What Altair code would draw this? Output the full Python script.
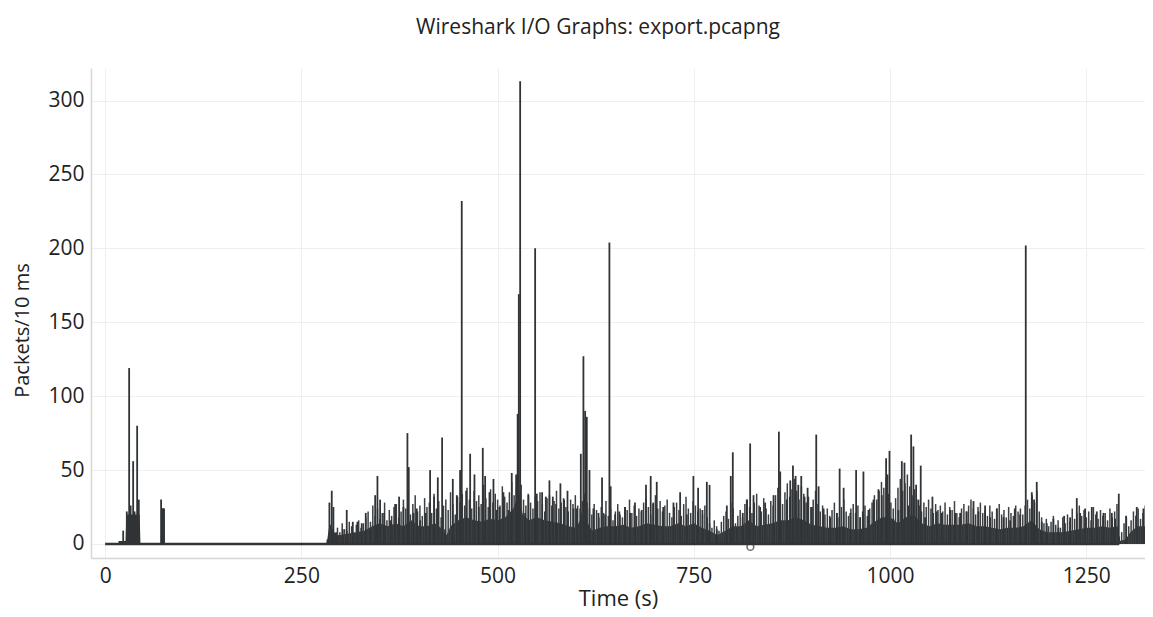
import altair as alt
import pandas as pd

# ---- data ----
spike_t = [20, 23, 27.6, 30.6, 32.5, 35.7, 37.5, 40.8, 42.9, 71.3, 73.5, 75,
           283.2, 285.7, 288.7, 290.8, 294.2, 297.2, 302.7, 307.8, 315.5, 321.4, 326.9, 332.0,
           337.6, 344.0, 346.9, 350.3, 355.4, 363.9, 369.4, 374.5, 380.0, 385.1, 386.8, 392.8,
           397.0, 401.3, 408.5, 414.0, 419.1, 423.8, 429.3, 433.1, 442.9, 448.0, 452.2, 454.3,
           459.9, 465.0, 470.5, 476.0, 481.1, 484.1, 489.6, 494.7, 499.0, 502.3, 507.4, 513.8,
           518.0, 523.6, 525.5, 527.0, 528.7, 535.0, 539.3, 547.8, 549.9, 556.7, 561.4, 566.0,
           570.3, 574.5, 580.0, 584.7, 589.0, 596.6, 600.8,
           606, 609.3, 611.5, 613.6, 617, 622, 628.5, 633, 637, 642.4, 644, 649.7, 655, 662.4,
           668.8, 675, 683.6, 689, 695, 698.3, 702.7, 711, 724, 732.5, 741, 749.4, 755.4, 760.9,
           766.5, 770, 779.2, 792, 797, 799.6, 804.7, 812.3, 817.4, 821.7, 826, 834.4, 840.8,
           851.5, 858.3, 860, 868.5, 872.8, 876.2, 879.6, 883, 886.8, 891, 894.9, 900.4, 905.9,
           908.9, 915.3, 923.8, 932.3, 935.7, 940.8, 949.3,
           956.7, 961.8, 966, 972.4, 978.8, 985.1, 989.4, 994.9, 996.6, 999.2, 1004.2, 1010.6,
           1014.9, 1018.3, 1023.4, 1026.8, 1029.7, 1033.1, 1036.1, 1039, 1044.6, 1053.9, 1059.4,
           1065.8, 1076.4, 1082.8, 1089.2, 1097.7, 1106.2, 1112.5, 1121, 1127.4, 1135.9, 1144.4,
           1152.9, 1158.8, 1165.6, 1172.8, 1180.5, 1183.4, 1186.8, 1193.2, 1199.6, 1208, 1214.4,
           1221.7, 1229.3, 1237.8, 1242, 1248.4, 1256.9, 1263.3, 1271.8, 1282.4, 1286.6, 1291.3,
           1300.6, 1314.2, 1322.7, 1329.1, 1333.3]
spike_v = [2, 9, 22, 119, 26, 56, 22, 80, 30, 30, 24, 24,
           3, 28, 36, 25, 8, 6, 10, 23, 15, 15, 14, 21,
           10, 33, 46, 30, 21, 16, 27, 32, 25, 75, 52, 21,
           24, 16, 21, 50, 32, 45, 72, 10, 44, 33, 50, 232,
           36, 61, 47, 25, 65, 46, 35, 44, 23, 25, 35, 23,
           48, 47, 88, 169, 313, 21, 33, 200, 34, 35, 32, 43,
           32, 27, 41, 30, 36, 24, 24,
           61, 127, 90, 86, 50, 24, 21, 45, 20, 204, 39, 20, 22, 25,
           21, 28, 23, 40, 46, 28, 42, 25, 28, 35, 20, 46, 38, 23,
           42, 40, 10, 26, 46, 62, 10, 21, 30, 68, 33, 25, 28,
           33, 76, 49, 30, 43, 53, 46, 40, 46, 32, 38, 25, 74,
           39, 24, 18, 21, 51, 38, 21,
           50, 18, 49, 23, 30, 37, 33, 58, 47, 63, 17, 23,
           56, 55, 26, 74, 66, 40, 30, 53, 18, 32, 22,
           21, 23, 21, 21, 22, 29, 22, 26, 18, 24, 18,
           16, 24, 20, 202, 35, 30, 42, 15, 14, 17, 11,
           19, 18, 31, 21, 24, 25, 22, 21, 21, 17, 34,
           19, 25, 24, 24, 32]

# thinner lines of the dense band, one every 3 s from 287 s
texture_start = 287
texture_step = 3
texture_v = [12, 9, 7, 11, 8, 14, 10, 9, 15, 12, 8, 13, 16, 11, 14,
             18, 22, 15, 26, 19, 24, 17, 21, 28, 16, 23, 19, 25, 27, 18, 22, 30,
             24, 29, 20, 27, 33, 22, 26, 19, 31, 25, 28, 21, 34, 24, 29, 18, 26, 30, 23, 35, 27, 20, 32,
             28, 34, 26, 38, 30, 24, 36, 29, 33, 27, 40, 31, 25, 37, 28, 34, 30, 26, 39, 32, 28, 35, 42,
             33, 38, 36, 40,
             30, 26, 34, 28, 24, 32, 29, 35, 27, 22, 31, 33, 26, 29, 36, 24, 28, 31, 25, 22, 30, 27, 33,
             26, 24, 29,
             34, 28, 24, 20, 27, 23, 18, 25, 21, 29, 19, 24, 16, 22, 27, 20, 18, 25, 23, 30,
             21, 26, 19, 24, 22, 28, 31, 25, 20, 27, 33, 24, 29, 22, 26, 30, 21, 18, 25, 28,
             23, 19, 27, 32, 24, 21, 29, 26, 22, 24,
             20, 26, 18, 14, 11, 16, 12, 9, 15, 19, 22, 17, 28, 24,
             14, 19, 23, 18, 27, 30, 25, 21, 28, 34, 26, 22, 31, 24, 20, 29, 26, 33, 38, 30,
             27, 35, 41, 32, 37, 44, 36, 30, 39, 34, 28, 32, 25, 30, 36, 27, 22, 26, 20, 24,
             19, 23, 28, 21, 18, 25, 30, 22, 19, 24, 27, 21, 26,
             18, 22, 26, 19, 24, 28, 33, 30, 36, 42, 38, 45, 34, 28, 24, 31, 38, 44, 36, 41,
             47, 39, 33, 37, 30, 26, 22, 28, 25, 30, 24, 21, 27, 23,
             26, 22, 28, 20, 25, 23, 29, 21, 18, 24, 27, 22, 26, 30, 24, 20, 25, 28, 21, 23,
             19, 26, 22, 17, 24, 27, 20, 23, 18, 25, 21, 19, 26, 22, 24, 20,
             26, 30, 24, 33, 28, 36, 22, 18,
             14, 17, 12, 15, 19, 13, 16, 11, 18, 14, 20, 15, 24, 17, 21, 26, 19, 23, 18, 22,
             16, 25, 20, 17, 23, 19, 21, 16, 24, 18, 22, 27,
             5, 8, 14, 18, 12, 16, 22, 19, 24, 17, 21, 26, 20, 23, 28]

# upper edge of the dense dark mass
floor_t = [17, 26, 27, 44, 45, 71, 71.5, 75.5, 76, 282,
           283, 286, 290, 295, 300, 310, 320, 330, 340, 350, 360, 370, 380, 390, 400,
           410, 420, 430, 435, 440, 450, 460, 470, 480, 490, 500, 510, 520, 527, 532,
           540, 550, 560, 570, 580, 590, 600, 605, 610, 615, 620, 630, 640, 650, 660,
           670, 680, 690, 700, 710, 720, 730, 740, 750, 760, 770, 780, 790, 800, 810,
           820, 830, 840, 850, 860, 870, 880, 890, 900, 910, 920, 930, 940, 950, 960,
           970, 980, 990, 1000, 1010, 1020, 1030, 1040, 1050, 1060, 1070, 1080, 1090, 1100,
           1110, 1120, 1130, 1140, 1150, 1160, 1170, 1180, 1190, 1200, 1210, 1220, 1230,
           1240, 1250, 1260, 1270, 1280, 1290, 1292, 1300, 1306, 1315, 1325, 1335]
floor_v = [2, 2, 20, 20, 0, 0, 24, 24, 0, 0,
           3, 14, 10, 5, 6, 7, 8, 9, 12, 14, 12, 14, 12, 16, 12,
           12, 14, 10, 6, 12, 16, 18, 16, 15, 17, 16, 18, 24, 35, 20,
           16, 18, 16, 15, 14, 12, 11, 16, 30, 14, 9, 11, 12, 12, 13,
           11, 12, 14, 13, 12, 12, 14, 12, 14, 11, 9, 6, 9, 12, 12,
           16, 12, 13, 14, 16, 16, 18, 16, 13, 12, 11, 11, 12, 10, 10,
           11, 15, 18, 18, 14, 18, 20, 14, 12, 14, 13, 13, 13, 14,
           12, 12, 11, 10, 11, 11, 12, 16, 10, 8, 8, 8, 9,
           10, 11, 11, 12, 11, 12, 2, 3, 8, 12, 12, 12]

baseline_t = [0, 1292]
baseline_v = [0, 0]

marker_t = [822]
marker_v = [-2]

x_ticks = [0, 250, 500, 750, 1000, 1250]
y_ticks = [0, 50, 100, 150, 200, 250, 300]

INK = "#303437"
INK_LIGHT = "#3c4043"
FONT = "Open Sans"

spikes = pd.DataFrame({"t": spike_t, "v": spike_v})
texture = pd.DataFrame({"v": texture_v})
texture["t"] = texture_start + texture_step * texture.index
floor = pd.DataFrame({"t": floor_t, "v": floor_v})
base = pd.DataFrame({"t": baseline_t, "v": baseline_v})
marker = pd.DataFrame({"t": marker_t, "v": marker_v})

xscale = alt.Scale(domain=[-18, 1324.7], nice=False, zero=False)
yscale = alt.Scale(domain=[-9.5, 322], nice=False, zero=False)

xaxis = alt.Axis(values=x_ticks, format="d", title="Time (s)", grid=True, gridColor="#efefef",
                 domainColor="#d6d6d6", domainWidth=1.5, ticks=False, labelPadding=7,
                 labelFontSize=21, titleFontSize=22, titleFontWeight="normal",
                 labelFont=FONT, titleFont=FONT, labelColor="#222", titleColor="#222",
                 titlePadding=2)
yaxis = alt.Axis(values=y_ticks, format="d", title="Packets/10 ms", grid=True, gridColor="#efefef",
                 domainColor="#d6d6d6", domainWidth=1.5, ticks=False, labelPadding=7,
                 labelFontSize=21, titleFontSize=20, titleFontWeight="normal",
                 labelFont=FONT, titleFont=FONT, labelColor="#222", titleColor="#222",
                 titleX=-69, titleY=262, titleAngle=270, titleAlign="center",
                 titleBaseline="middle")

floor_layer = alt.Chart(floor).mark_area(interpolate="linear", color=INK, clip=True).encode(
    x=alt.X("t:Q", scale=xscale, axis=xaxis),
    y=alt.Y("v:Q", scale=yscale, axis=yaxis),
)

texture_layer = alt.Chart(texture).mark_rule(color=INK_LIGHT, strokeWidth=1.5, clip=True).encode(
    x=alt.X("t:Q", scale=xscale),
    y=alt.Y("v:Q", scale=yscale),
    y2=alt.datum(0),
)

spike_layer = alt.Chart(spikes).mark_rule(color=INK, strokeWidth=1.8, clip=True).encode(
    x=alt.X("t:Q", scale=xscale),
    y=alt.Y("v:Q", scale=yscale),
    y2=alt.datum(0),
)

base_layer = alt.Chart(base).mark_line(color=INK, strokeWidth=2.5, clip=True).encode(
    x=alt.X("t:Q", scale=xscale),
    y=alt.Y("v:Q", scale=yscale),
)

marker_layer = alt.Chart(marker).mark_point(shape="circle", filled=False, color=INK,
                                             size=45, strokeWidth=1.6, clip=True).encode(
    x=alt.X("t:Q", scale=xscale),
    y=alt.Y("v:Q", scale=yscale),
)

chart = alt.layer(floor_layer, texture_layer, base_layer, spike_layer, marker_layer).properties(
    width=1054,
    height=490,
    autosize=alt.AutoSizeParams(type="none"),
    padding={"left": 83, "top": 60, "right": 0, "bottom": 60},
    title=alt.TitleParams("Wireshark I/O Graphs: export.pcapng", fontSize=21,
                          font=FONT, fontWeight="normal", color="#222",
                          anchor="middle", dx=-20, offset=30),
).configure_view(stroke=None)

chart.save("out.html", embed_options={"renderer": "svg", "actions": False})
